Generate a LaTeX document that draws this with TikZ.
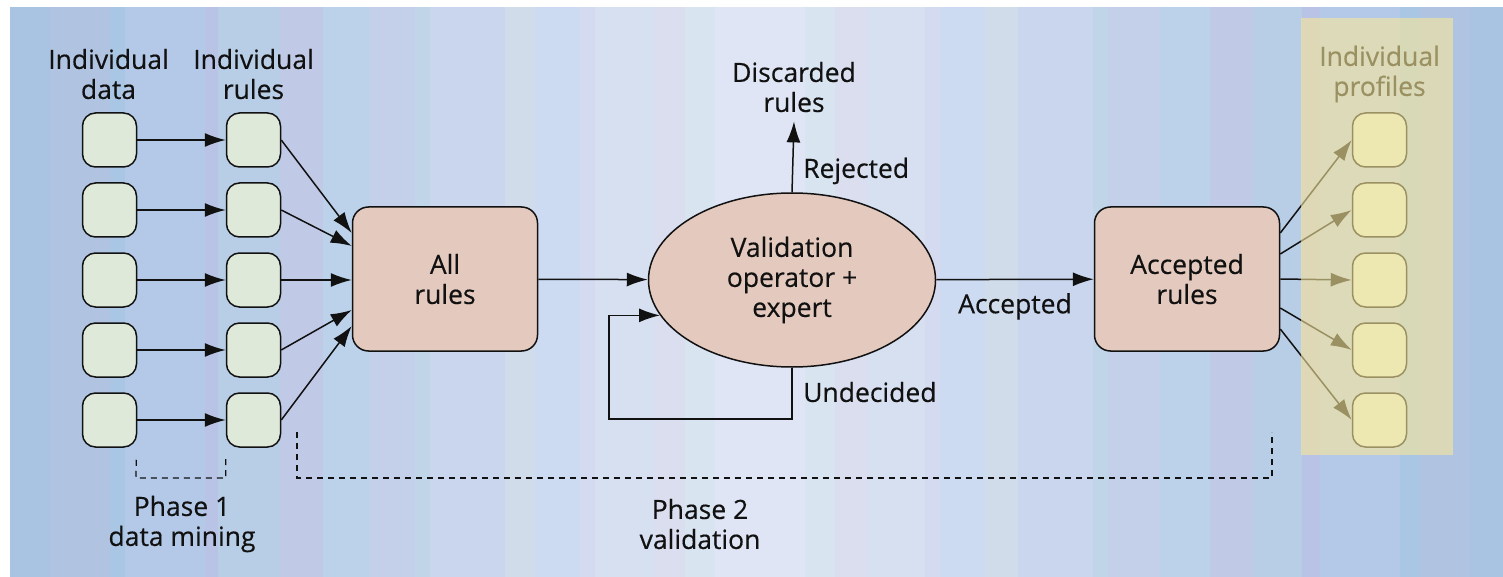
\documentclass[tikz,border=0pt]{standalone}
\usepackage{fontspec}
\setmainfont{Open Sans}[FakeBold=0.35]
\usetikzlibrary{arrows.meta,shapes.geometric,calc}
\definecolor{databox}{HTML}{DFE9D9}
\definecolor{rulebox}{HTML}{E4C9BE}
\definecolor{profveil}{RGB}{247,230,153}
\definecolor{ink}{HTML}{111111}
\tikzset{
  gbox/.style={draw=ink, fill=databox, line width=1.5pt, rounded corners=13pt,
    minimum width=54pt, minimum height=54pt, inner sep=0pt},
  rbox/.style={draw=ink, fill=rulebox, line width=1.5pt, rounded corners=16pt,
    minimum width=185pt, minimum height=144pt, align=center, inner sep=0pt,
    text=ink, font=\fontsize{26.5}{30}\selectfont},
  oval/.style={ellipse, draw=ink, fill=rulebox, line width=1.5pt,
    minimum width=287pt, minimum height=174pt, align=center, inner sep=0pt,
    text=ink, font=\fontsize{26.5}{30}\selectfont},
  lbl/.style={align=center, text=ink, font=\fontsize{26.5}{30}\selectfont, inner sep=0pt},
  arr/.style={draw=ink, line width=1.5pt, -{Latex[length=21pt,width=14pt]}},
  bracket/.style={draw=ink, line width=1.2pt, dash pattern=on 6pt off 5pt},
}
\begin{document}
\begin{tikzpicture}[x=1pt,y=-1pt]
  % canvas and banded background
  \useasboundingbox (0,0) rectangle (1503,577);
  \fill[white] (0,0) rectangle (1503,577);
  \foreach \xa/\xb/\c in {10/50/A8C4E2, 50/110/B0C4E2, 110/125/A9C6E4, 125/205/B4C9E8,
      205/218/B9C3E6, 218/280/B8CDE6, 280/323/C0CAE6, 323/370/BCD2EA, 370/415/C4CFEA,
      415/430/C0D6E8, 430/505/CAD6EE, 505/535/D0DCEA, 535/580/CCDAF2, 580/595/D4DAF0,
      595/655/D6E0F0, 655/685/DADEEF, 685/715/D8E4F0, 715/805/DFE5F4, 805/835/D8E4F0,
      835/867/DADEEF, 867/925/D6E0F0, 925/940/D4DAF0, 940/985/CCDAF2, 985/1018/D0DCEA,
      1018/1093/CAD6EE, 1093/1108/C0D6E8, 1108/1160/C4CFEA, 1160/1210/BCD2EA,
      1210/1253/C0CAE6, 1253/1302/B8CDE6, 1302/1320/B9C3E6, 1320/1400/B4C9E8,
      1400/1420/A9C6E4, 1420/1470/B0C4E2, 1470/1503/A8C4E2} {
    \definecolor{bandcol}{HTML}{\c}
    \fill[bandcol] (\xa,7) rectangle (\xb+0.5,577);
  }

  % column headings
  \node[lbl] (hdata) at (108.5,74) {Individual\\data};
  \node[lbl] (hrules) at (253.5,74) {Individual\\rules};
  \node[lbl] (hprof) at (1379.5,74) {Individual\\profiles};

  % the three columns of small boxes
  \foreach \i/\y in {1/140, 2/210, 3/280, 4/350, 5/420} {
    \node[gbox] (d\i) at (109.5,\y) {};
    \node[gbox] (r\i) at (253.5,\y) {};
    \node[gbox] (p\i) at (1379.5,\y) {};
    \draw[arr] (d\i) -- (r\i);
  }

  % main flow
  \node[rbox] (all) at (445,279) {All\\rules};
  \node[oval] (ell) at (792,280) {Validation\\operator +\\expert};
  \node[rbox] (acc) at (1187,279) {Accepted\\rules};
  \node[lbl] (disc) at (794,87) {Discarded\\rules};

  \draw[arr] (r1.east) -- ($(all.west)+(0,-46)$);
  \draw[arr] (r2.east) -- ($(all.west)+(0,-33)$);
  \draw[arr] (r3.east) -- (r3.east -| all.west);
  \draw[arr] (r4.east) -- ($(all.west)+(0,31)$);
  \draw[arr] (r5.east) -- ($(all.west)+(0,47)$);

  \draw[arr] (all) -- (ell);
  \draw[arr] (ell) -- node[lbl, below=13pt] {Accepted} (acc);
  \draw[arr] (ell.north) -- ([yshift=-9pt]disc.south);
  \node[lbl, anchor=west] (rej) at (803,171) {Rejected};

  \coordinate (loopc) at (609,419);
  \draw[arr] (ell.south) |- (loopc) |- (ell.195);
  \node[lbl, anchor=west] (und) at (803,392) {Undecided};

  \draw[arr] ($(acc.east)+(0,-46)$) -- (p1.west);
  \draw[arr] ($(acc.east)+(0,-25)$) -- (p2.west);
  \draw[arr] (acc.east) -- (p3.west);
  \draw[arr] ($(acc.east)+(0,29)$) -- (p4.west);
  \draw[arr] ($(acc.east)+(0,50)$) -- (p5.west);

  % translucent band over the profiles column
  \fill[profveil, opacity=0.6] (1301,18) rectangle (1453,455);

  % phase brackets
  \draw[bracket] ([xshift=-1pt,yshift=-12pt]d5.south east) -- (136,478) -| ([yshift=-10pt]r5.south west);
  \coordinate (ph2a) at (297,432);
  \coordinate (ph2b) at (1272,432);
  \draw[bracket] (ph2a) -- ++(0,46) -| (ph2b);
  \node[lbl] (ph1) at (182,524) {Phase 1\\data mining};
  \node[lbl] (ph2) at (700,524) {Phase 2\\validation};
\end{tikzpicture}
\end{document}
